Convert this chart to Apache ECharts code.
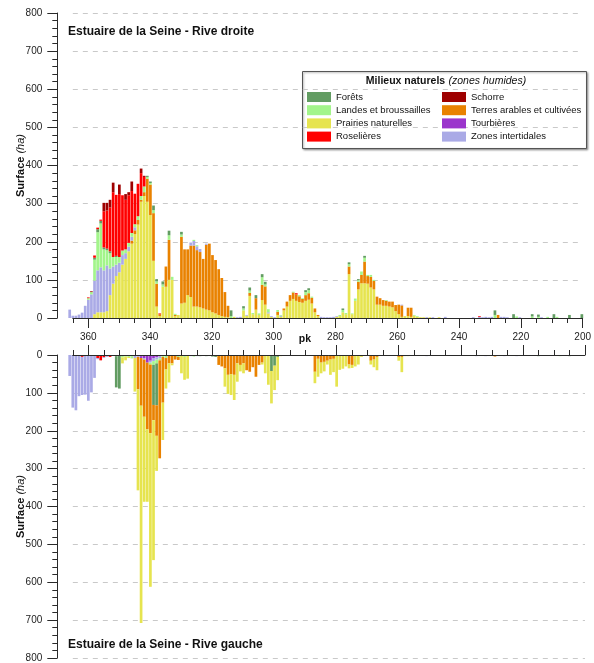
<!DOCTYPE html>
<html><head><meta charset="utf-8">
<script src="https://cdn.jsdelivr.net/npm/echarts@6/dist/echarts.min.js"></script>
<style>html,body{margin:0;padding:0;background:#fff}#c{width:594px;height:663px}</style>
</head><body><div id="c"></div><script>
// ---- categories / labels ----
const pkFirst = 366, pkLast = 201;           // 1-km bins along the estuary (pk)
const pkTicks = [200, 220, 240, 260, 280, 300, 320, 340, 360];
const names = ['Forêts','Landes et broussailles','Prairies naturelles','Roselières','Schorre','Terres arables et cultivées','Tourbières','Zones intertidales'];
const colors = {'Forêts':'#629c62','Landes et broussailles':'#a3f58b','Prairies naturelles':'#e6e44f','Roselières':'#ff0000','Schorre':'#9e0000','Terres arables et cultivées':'#e98200','Tourbières':'#9b35cc','Zones intertidales':'#aaaae6'};

// ---- Rive droite (values in ha, [pk, surface]) ----
const droitePrairies = [[358,10],[357,15],[356,15],[355,15],[354,18],[353,60],[352,90],[351,110],[350,120],[349,140],[348,155],[347,175],[346,195],[345,220],[344,245],[343,305],[342,320],[341,305],[340,270],[339,150],[338,30],[337,5],[336,82],[335,82],[334,100],[333,100],[332,5],[331,8],[330,38],[329,40],[328,60],[327,55],[326,30],[325,30],[324,28],[323,25],[322,22],[321,20],[320,15],[319,12],[318,8],[317,5],[316,3],[315,2],[313,3],[310,20],[309,6],[308,58],[307,10],[306,22],[305,8],[304,47],[303,35],[302,12],[301,3],[299,8],[298,3],[297,20],[296,30],[295,45],[294,50],[293,45],[292,42],[291,40],[290,45],[289,48],[288,38],[287,15],[286,5],[280,3],[279,5],[278,15],[277,10],[276,115],[275,10],[274,45],[273,75],[272,91],[271,91],[270,90],[269,80],[268,75],[267,35],[266,35],[265,32],[264,32],[263,30],[262,28],[261,18],[260,10],[259,3],[258,5],[257,5],[256,3],[255,6],[254,3],[253,2],[252,2],[250,2],[247,2]];
const droiteTerres = [[346,8],[345,10],[344,12],[343,5],[342,10],[341,60],[340,80],[339,125],[338,60],[337,5],[335,53],[334,105],[332,3],[330,175],[329,140],[328,120],[327,135],[326,160],[325,148],[324,145],[323,130],[322,170],[321,175],[320,150],[319,140],[318,120],[317,100],[316,65],[315,30],[308,8],[306,30],[304,40],[303,48],[299,8],[297,5],[296,13],[295,15],[294,17],[293,17],[292,15],[291,10],[290,15],[289,17],[288,15],[287,10],[286,3],[276,20],[273,20],[272,22],[271,57],[270,20],[269,28],[268,22],[267,21],[266,17],[265,15],[264,13],[263,13],[262,15],[261,16],[260,25],[259,30],[257,22],[256,24],[228,8]];
const droiteZonesInter = [[366,22],[365,6],[364,6],[363,9],[362,14],[361,32],[360,48],[359,62],[358,88],[357,110],[356,118],[355,110],[354,120],[353,70],[352,45],[351,30],[350,25],[349,25],[348,15],[347,12],[346,10],[345,8],[327,8],[326,12],[325,10],[324,8],[322,3],[312,2],[311,3],[309,2],[302,3],[301,2],[300,2],[298,3],[285,3],[284,2],[283,2],[282,2],[281,3],[280,2],[259,2],[251,2],[249,2],[245,3],[236,2],[234,3],[233,2],[232,3],[231,2],[230,3],[227,3],[226,3],[225,2],[221,2],[214,2]];
const droiteTourbieres = [];
const droiteLandes = [[360,4],[359,6],[358,55],[357,100],[356,115],[355,55],[354,40],[353,40],[352,25],[351,20],[350,15],[349,12],[348,10],[347,10],[346,10],[345,8],[344,10],[343,10],[342,15],[341,5],[340,4],[339,8],[338,6],[336,6],[334,12],[333,8],[332,3],[330,6],[326,3],[325,3],[314,5],[310,5],[308,6],[307,3],[305,4],[304,20],[303,5],[302,8],[299,5],[298,2],[294,2],[292,3],[291,2],[290,8],[289,8],[288,3],[279,3],[278,6],[277,3],[276,6],[275,2],[274,6],[273,4],[272,9],[271,10],[270,3],[269,5],[268,3],[264,2],[255,2],[254,2],[229,8],[222,4],[217,4],[215,3],[212,3],[209,3]];
const droiteForets = [[358,5],[357,8],[356,7],[355,5],[354,4],[353,5],[351,3],[341,3],[340,4],[339,12],[338,6],[336,8],[334,12],[330,7],[314,15],[310,6],[308,8],[306,8],[304,8],[303,7],[290,5],[289,5],[278,4],[276,5],[273,3],[271,5],[229,12],[223,10],[217,6],[215,6],[210,10],[205,8],[201,10]];
const droiteRoselieres = [[360,2],[358,6],[357,4],[356,3],[355,95],[354,100],[353,115],[352,170],[351,160],[350,165],[349,145],[348,130],[347,125],[346,110],[345,80],[344,85],[343,60],[342,25],[337,2],[293,3],[234,2]];
const droiteSchorre = [[359,2],[355,22],[354,20],[353,20],[352,25],[350,25],[348,15],[347,8],[346,25],[343,12],[342,3]];

// ---- Rive gauche ----
const gaucheRoselieres = [[362,5],[357,8],[356,14],[355,6],[353,5],[343,3],[338,2],[331,2]];
const gaucheSchorre = [[354,3]];
const gaucheTourbieres = [[343,5],[342,8],[341,20],[340,15],[339,8],[338,4],[337,4],[223,2]];
const gaucheZonesInter = [[366,55],[365,138],[364,145],[363,108],[362,100],[361,104],[360,120],[359,98],[358,60],[357,3],[355,2],[354,2],[346,3],[345,8],[344,5],[342,4],[340,5],[339,8],[338,6],[337,5],[327,3],[326,2],[325,3],[323,2],[297,2],[295,2],[293,2],[251,3],[235,3],[232,3],[226,3],[222,3]];
const gaucheLandes = [[351,3],[350,2],[349,6],[348,4],[347,5],[346,6],[340,5],[339,10],[338,10],[337,5],[336,5],[335,8],[331,3],[329,5],[326,2],[321,2],[319,2],[307,2],[258,3],[208,3]];
const gaucheForets = [[351,82],[350,86],[339,105],[338,110],[324,3],[322,3],[320,4],[319,3],[301,42],[300,28],[299,5],[215,3],[212,2],[205,3]];
const gaucheTerres = [[344,85],[343,125],[342,150],[341,175],[340,180],[339,40],[338,80],[337,257],[336,120],[335,30],[334,22],[333,22],[332,12],[331,8],[318,26],[317,30],[316,35],[315,52],[314,50],[313,52],[312,22],[311,26],[310,22],[309,40],[308,44],[307,30],[306,57],[305,26],[304,20],[287,44],[286,10],[285,20],[284,18],[283,15],[282,12],[281,10],[276,25],[275,26],[269,15],[268,12],[267,5],[260,5],[259,5],[229,4]];
const gauchePrairies = [[349,16],[348,10],[347,3],[345,88],[344,265],[343,570],[342,223],[341,190],[340,403],[339,367],[338,92],[336,98],[335,50],[334,50],[333,5],[330,48],[329,60],[328,62],[316,48],[315,50],[314,55],[313,66],[312,48],[311,17],[310,26],[304,5],[303,48],[302,78],[301,85],[300,64],[299,61],[298,3],[287,30],[286,47],[285,28],[284,25],[283,10],[282,40],[281,35],[280,83],[279,39],[278,36],[277,30],[276,10],[275,8],[274,30],[273,25],[272,5],[269,10],[268,20],[267,35],[260,10],[259,40],[257,3]];

// stacking order (from the axis outwards)
const droiteStack = [['Prairies naturelles',droitePrairies],['Terres arables et cultivées',droiteTerres],['Zones intertidales',droiteZonesInter],['Tourbières',droiteTourbieres],['Landes et broussailles',droiteLandes],['Forêts',droiteForets],['Roselières',droiteRoselieres],['Schorre',droiteSchorre]];
const gaucheStack = [['Roselières',gaucheRoselieres],['Schorre',gaucheSchorre],['Tourbières',gaucheTourbieres],['Zones intertidales',gaucheZonesInter],['Landes et broussailles',gaucheLandes],['Forêts',gaucheForets],['Terres arables et cultivées',gaucheTerres],['Prairies naturelles',gauchePrairies]];

// ---- build ----
const bins = [];
for (let k = pkFirst; k >= pkLast; k--) bins.push(String(k));
function dense(pairs) {
  const m = new Map(pairs);
  return bins.map(k => (m.has(+k) ? m.get(+k) : 0));
}
const FONT = 'Liberation Sans';
// pk scale: pk 365 at x=72.8, 3.104 px per pk -> bar band grid spans pk 366.5 .. 200.5
const PX = 3.104, X365 = 72.8;
const bandLeft = X365 - 1.5 * PX;
const bandRight = 594 - (X365 + 164.5 * PX);

const series = [];
droiteStack.forEach(([n, d]) => series.push({
  name: n, type: 'bar', stack: 'd', xAxisIndex: 4, yAxisIndex: 2, data: dense(d),
  barWidth: 2.7, itemStyle: {color: colors[n]}, emphasis: {disabled: true}, animation: false
}));
gaucheStack.forEach(([n, d]) => series.push({
  name: n, type: 'bar', stack: 'g', xAxisIndex: 5, yAxisIndex: 3, data: dense(d),
  barWidth: 2.7, itemStyle: {color: colors[n]}, emphasis: {disabled: true}, animation: false
}));

const axisCol = '#2a2a2a';
function xMajor(grid, pos, showLabel) {
  return {
    gridIndex: grid, type: 'value', min: 200, max: 365, inverse: true, position: pos,
    axisLine: {show: true, lineStyle: {color: axisCol, width: 1}},
    axisTick: {show: true, length: 10, customValues: pkTicks, lineStyle: {color: axisCol}},
    axisLabel: {show: showLabel, customValues: pkTicks, fontFamily: FONT, fontSize: 10, color: '#222', margin: 14},
    splitLine: {show: false}, z: 5
  };
}
function xMinor(grid, pos) {
  return {
    gridIndex: grid, type: 'value', min: 200, max: 365, interval: 5, inverse: true, position: pos,
    axisLine: {show: false}, axisTick: {show: true, length: 5, lineStyle: {color: axisCol}},
    axisLabel: {show: false}, splitLine: {show: false}
  };
}
function xBand(grid) {
  return {gridIndex: grid, type: 'category', data: bins, boundaryGap: true, show: false};
}
function yHidden(grid, inv) {
  return {gridIndex: grid, type: 'value', min: 0, max: 800, inverse: inv, show: false, splitLine: {show: false}};
}
function yAx(grid, inv) {
  return {
    gridIndex: grid, type: 'value', min: 0, max: 800, interval: 100, inverse: inv, offset: 15.5,
    axisLine: {show: true, lineStyle: {color: axisCol}},
    axisTick: {show: true, length: 10, lineStyle: {color: axisCol}},
    minorTick: {show: true, splitNumber: 5, length: 5, lineStyle: {color: axisCol}},
    axisLabel: {fontFamily: FONT, fontSize: 10, color: '#222', margin: 15},
    splitLine: {show: true, lineStyle: {color: '#c9c9c9', type: [5, 5], width: 1}},
    name: '{b|Surface} {i|(ha)}', nameLocation: 'middle', nameGap: 31, nameRotate: 90, nameMoveOverlap: false,
    nameTextStyle: {fontFamily: FONT, fontSize: 11, color: '#111', rich: {b: {fontWeight: 'bold', fontFamily: FONT, fontSize: 11}, i: {fontStyle: 'italic', fontFamily: FONT, fontSize: 11}}}
  };
}
const legendCommon = {
  orient: 'vertical', itemWidth: 24, itemHeight: 10, itemGap: 3.2, icon: 'rect', selectedMode: false,
  textStyle: {fontFamily: FONT, fontSize: 9.5, color: '#111'}, padding: 0
};

const option = {
  animation: false,
  backgroundColor: '#fff',
  grid: [
    {left: X365, right: 9, top: 13, height: 305},
    {left: X365, right: 9, top: 355, height: 305},
    {left: bandLeft, right: bandRight, top: 13, height: 305},
    {left: bandLeft, right: bandRight, top: 355, height: 305}
  ],
  xAxis: [xMajor(0, 'bottom', true), xMinor(0, 'bottom'), xMajor(1, 'top', false), xMinor(1, 'top'), xBand(2), xBand(3)],
  yAxis: [yAx(0, false), yAx(1, true), yHidden(2, false), yHidden(3, true)],
  legend: [
    Object.assign({left: 307, top: 92, data: names.slice(0, 4)}, legendCommon),
    Object.assign({left: 442, top: 92, data: names.slice(4)}, legendCommon)
  ],
  graphic: [
    {type: 'rect', left: 302, top: 71, z: 0, shape: {width: 284, height: 77},
     style: {fill: '#fff', stroke: '#555', lineWidth: 1, shadowColor: 'rgba(0,0,0,0.35)', shadowBlur: 2, shadowOffsetX: 1, shadowOffsetY: 1}},
    {type: 'text', x: 446, y: 81, z: 10, style: {text: '{b|Milieux naturels} {i|(zones humides)}', align: 'center', verticalAlign: 'middle',
      rich: {b: {fontFamily: FONT, fontWeight: 'bold', fontSize: 10.5, fill: '#111'}, i: {fontFamily: FONT, fontStyle: 'italic', fontSize: 10.5, fill: '#111'}}}},
    {type: 'text', x: 68, y: 32, z: 10, style: {text: 'Estuaire de la Seine - Rive droite', fontFamily: FONT, fontWeight: 'bold', fontSize: 12, fill: '#111', verticalAlign: 'middle'}},
    {type: 'text', x: 68, y: 645, z: 10, style: {text: 'Estuaire de la Seine - Rive gauche', fontFamily: FONT, fontWeight: 'bold', fontSize: 12, fill: '#111', verticalAlign: 'middle'}},
    {type: 'text', x: 305, y: 339, z: 10, style: {text: 'pk', fontFamily: FONT, fontWeight: 'bold', fontSize: 10.5, fill: '#111', align: 'center', verticalAlign: 'middle'}}
  ],
  series: series
};
const chart = echarts.init(document.getElementById('c'), null, {renderer: 'canvas'});
chart.setOption(option);
</script></body></html>
